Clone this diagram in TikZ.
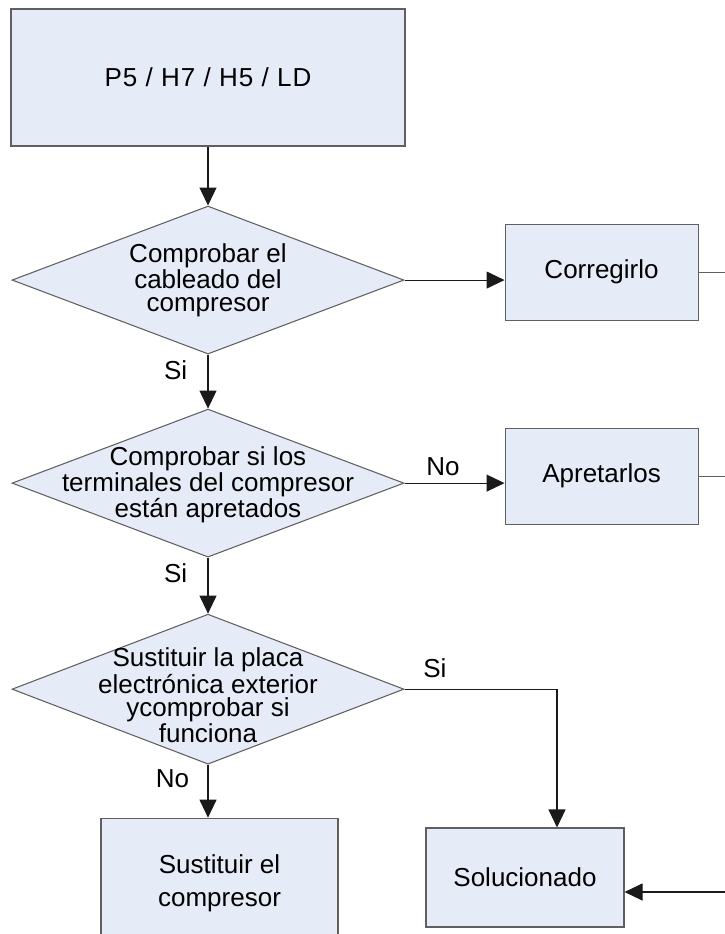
\documentclass[tikz,border=0pt]{standalone}
\usepackage{fontspec}
\setmainfont{Liberation Sans}
\usepackage{tikz}
\usetikzlibrary{shapes.geometric, arrows.meta, positioning}
\definecolor{boxfill}{HTML}{E6ECF7}
\definecolor{boxline}{HTML}{5F5F5F}
\definecolor{wireline}{HTML}{1A1A1A}
\newcommand{\chartfont}{\fontsize{14.8pt}{13.2pt}\selectfont}
\tikzstyle{stepbox} = [rectangle, minimum width=3.86cm, minimum height=1.92cm, text centered, draw=boxline, fill=boxfill, line width=0.6pt, font=\chartfont]
\tikzstyle{decision} = [diamond, minimum width=7.84cm, minimum height=2.96cm, inner sep=0pt, draw=boxline, fill=boxfill, line width=0.6pt]
\tikzstyle{dtext} = [align=center, font=\chartfont, inner sep=0pt]
\tikzstyle{lbl} = [font=\chartfont, inner sep=0pt]
\tikzstyle{arrow} = [line width=0.6pt, -{Triangle[length=0.36cm, width=0.34cm]}, color=wireline]
\tikzstyle{wire} = [line width=0.6pt, color=boxline]

\begin{document}
\begin{tikzpicture}[node distance=1.1cm]
    \clip (0,0) rectangle (14.5,-18.68);
    \coordinate (rim) at (14.5,0);

    \node[stepbox, minimum width=7.88cm, minimum height=2.74cm, font={\chartfont\addfontfeature{LetterSpace=4}}] (start) at (4.16,-1.55) {P5 / H7 / H5 / LD};
    \node[decision, below=1.18cm of start, label={[dtext]center:Comprobar el\\cableado del\\compresor}] (wiring) {};
    \node[decision, below=1.08cm of wiring, label={[dtext, yshift=-0.04cm]center:Comprobar si los\\terminales del compresor\\están apretados}] (terminals) {};
    \node[decision, below=1.12cm of terminals, minimum height=3cm, label={[dtext, yshift=-0.12cm]center:Sustituir la placa\\electrónica exterior\\ycomprobar si\\funciona}] (board) {};
    \node[stepbox, right=2cm of wiring.east, yshift=0.16cm] (rewire) {Corregirlo};
    \node[stepbox, right=2cm of terminals.east, yshift=0.14cm] (tighten) {Apretarlos};
    \node[stepbox, below=1.06cm of board, xshift=0.23cm, minimum width=4.74cm, minimum height=2.6cm, align=center, font={\fontsize{14.8pt}{18.8pt}\selectfont}] (replace) {Sustituir el\\compresor};
    \node[stepbox, minimum width=3.96cm, minimum height=1.98cm] (solved) at (10.5,-17.55) {Solucionado};

    \draw[arrow] (start) -- (wiring);
    \draw[arrow] (wiring.east) -- (wiring.east -| rewire.west);
    \draw[arrow] (wiring) -- (terminals);
    \draw[arrow] (terminals.east) -- (terminals.east -| tighten.west);
    \draw[arrow] (terminals) -- (board);
    \draw[arrow] (board.south) -- (board.south |- replace.north);
    \draw[arrow] (board.east) -| ([xshift=0.64cm]solved.north);
    \draw[wire] (rewire.east) -- (rewire.east -| rim);
    \draw[wire] (tighten.east) -- (tighten.east -| rim);
    \draw[arrow] ([yshift=-0.29cm]solved.east -| rim) -- ([yshift=-0.29cm]solved.east);

    % Labels
    \node[lbl, below left=0.11cm and 0.41cm of wiring.south] (yes1) {Si};
    \node[lbl, below left=0.11cm and 0.41cm of terminals.south] (yes2) {Si};
    \node[lbl, below left=0.09cm and 0.37cm of board.south] (no3) {No};
    \node[lbl, above right=0.15cm and 0.43cm of terminals.east] (no2) {No};
    \node[lbl, above right=0.23cm and 0.37cm of board.east] (yes3) {Si};
\end{tikzpicture}
\end{document}
